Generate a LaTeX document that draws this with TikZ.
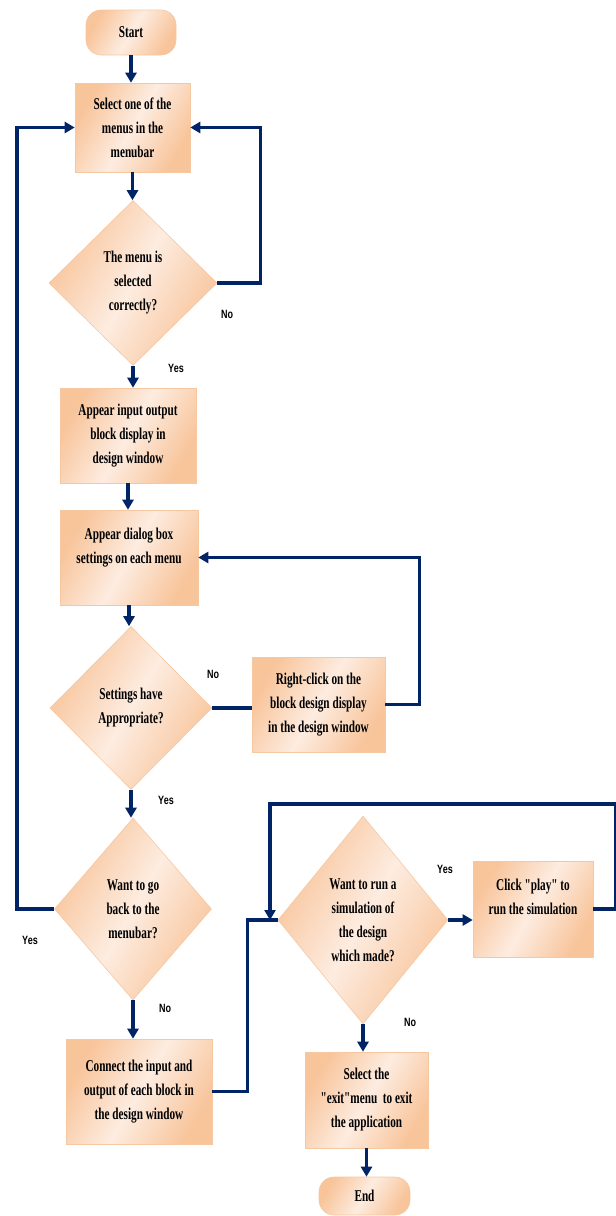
\documentclass[tikz,border=0pt]{standalone}
\usepackage{fontspec}
\newfontfamily\boxfont{Liberation Serif}[FakeStretch=0.68]
\newfontfamily\labelfont{Liberation Sans}[FakeStretch=0.75]
\usetikzlibrary{shapes.geometric,arrows.meta}
\definecolor{peach}{RGB}{248,196,154}
\definecolor{peachlight}{RGB}{253,236,224}
\definecolor{peachline}{RGB}{246,200,162}
\definecolor{navy}{RGB}{0,36,102}
\tikzset{
  base/.style={draw=peachline, line width=0.6pt, left color=peach, right color=peach,
    middle color=peachlight, shading angle=60, align=center,
    font=\boxfont\bfseries\fontsize{16.5}{24}\selectfont},
  process/.style={base, rectangle, inner sep=2pt},
  decision/.style={base, diamond, inner sep=0pt},
  terminal/.style={base, rectangle, rounded corners=15pt},
  answer/.style={font=\labelfont\bfseries\fontsize{12}{14}\selectfont},
  flow/.style={draw=navy, line width=3.5pt, -{Triangle[length=10pt,width=11pt]}},
  link/.style={draw=navy, line width=3.5pt}
}
\begin{document}
\begin{tikzpicture}[x=1pt, y=-1pt]
% Page frame, same size as the original picture
\useasboundingbox (0,0) rectangle (616,1216);

% Left column
\node[terminal, minimum width=90pt, minimum height=45pt] (start) at (131,32.5) {Start};
\node[process, minimum width=115pt, minimum height=89pt] (menu) at (132.5,127.5) {Select one of the\\menus in the\\menubar};
\node[decision, minimum width=168pt, minimum height=165pt] (chkmenu) at (133,283) {The menu is\\selected\\correctly?};
\node[process, minimum width=136pt, minimum height=95pt] (block) at (128,435.5) {Appear input output\\block display in\\design window};
\node[process, minimum width=138pt, minimum height=95pt] (dialog) at (129,557.5) {Appear dialog box\\settings on each menu\\\mbox{}};
\node[decision, minimum width=162pt, minimum height=163pt] (chkset) at (131,708) {Settings have\\Appropriate?};
\node[process, minimum width=133pt, minimum height=95pt] (rclick) at (318.5,704.5) {Right-click on the\\block design display\\in the design window};
\node[decision, minimum width=157pt, minimum height=182pt] (goback) at (133,909) {Want to go\\back to the\\menubar?};
\node[process, minimum width=146pt, minimum height=105pt] (connect) at (139,1091.5) {Connect the input and\\output of each block in\\the design window};

% Right column
\node[decision, minimum width=170pt, minimum height=208pt] (runsim) at (363,920) {Want to run a\\simulation of\\the design\\which made?};
\node[process, minimum width=120pt, minimum height=96pt] (play) at (533,909) {Click "play" to\\run the simulation\\\mbox{}};
\node[process, minimum width=123pt, minimum height=96pt] (exitapp) at (366.5,1100) {Select the\\"exit"menu\ \ to exit\\the application};
\node[terminal, minimum width=91pt, minimum height=38pt] (end) at (364.5,1196) {End};

% Yes / No labels
\node[answer] (no1) at (227,314) {No};
\node[answer] (yes1) at (176,368) {Yes};
\node[answer] (no2) at (213,674) {No};
\node[answer] (yes2) at (166,800) {Yes};
\node[answer] (yes3) at (30,940) {Yes};
\node[answer] (no3) at (165,1008) {No};
\node[answer] (yes4) at (445,869) {Yes};
\node[answer] (no4) at (410,1022) {No};

% Connectors
\coordinate (simloop) at (270,804);
\draw[flow] (start.south) -- (start.south |- menu.north);
\draw[flow] (menu.south) -- (menu.south |- chkmenu.north);
\draw[flow] (chkmenu.east) -- ++(43,0) |- (menu.east);
\draw[flow] (chkmenu.south) -- (chkmenu.south |- block.north);
\draw[flow] (block.south) -- (block.south |- dialog.north);
\draw[flow] (dialog.south) -- (dialog.south |- chkset.north);
\draw[link] (chkset.east) -- (chkset.east -| rclick.west);
\draw[flow] (rclick.east) -- ++(34,0) |- (dialog.east);
\draw[flow] (chkset.south) -- (chkset.south |- goback.north);
\draw[flow] (goback.west) -- ++(-37,0) |- (menu.west);
\draw[flow] (goback.south) -- (goback.south |- connect.north);
\draw[link] (connect.east) -- ++(35,0) |- (runsim.west);
\draw[flow] (runsim.east) -- (runsim.east -| play.west);
\draw[flow] (play.east) -- ++(22,0) |- (simloop) -- (simloop |- runsim.west);
\draw[flow] (runsim.south) -- (runsim.south |- exitapp.north);
\draw[flow] (exitapp.south) -- (exitapp.south |- end.north);
\end{tikzpicture}
\end{document}
